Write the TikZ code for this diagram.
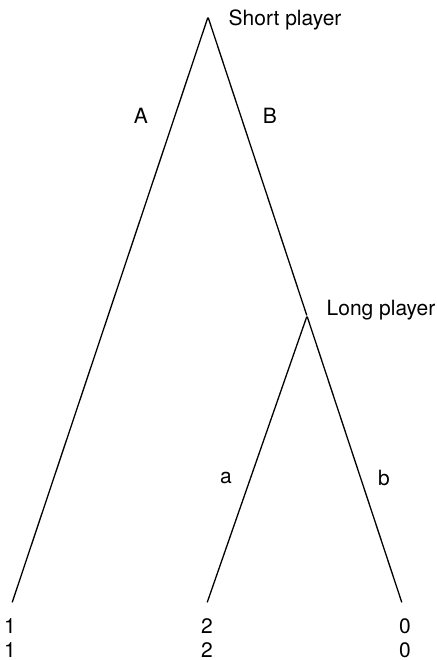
\documentclass[tikz,border=0pt]{standalone}
\usepackage{fontspec}
\setmainfont{TeX Gyre Heros}
\usetikzlibrary{positioning}

\tikzset{
  pt/.style={inner sep=0pt, minimum size=0pt},
  lbl/.style={font=\fontsize{10.5}{12}\selectfont, inner sep=0pt},
  pay/.style={lbl, align=center, anchor=north}
}

\begin{document}
\begin{tikzpicture}[x=0.5pt,y=0.5pt,line width=0.65pt]
	\useasboundingbox (0,0) rectangle (437,660);
	% decision nodes and leaves
	\node[pt] (short) at (208,643) {};
	\node[pt] (long) at (307,344) {};
	\node[pt] (leafA) at (12,57) {};
	\node[pt] (leafa) at (207,57) {};
	\node[pt] (leafb) at (402,57) {};

	\draw (short) -- (leafA);
	\draw (short) -- (long);
	\draw (long) -- (leafa);
	\draw (long) -- (leafb);

	% players
	\node[lbl, anchor=base west] (shortname) at (228,634) {Short player};
	\node[lbl, anchor=base west] (longname) at (326,344) {Long player};

	% moves
	\node[lbl] (moveA) at (141,544) {A};
	\node[lbl] (moveB) at (270,544) {B};
	\node[lbl] (movea) at (226,182) {a};
	\node[lbl] (moveb) at (384,182) {b};

	% payoffs
	\node[pay] (payA) at (10,42) {1\\1};
	\node[pay] (paya) at (207,42) {2\\2};
	\node[pay] (payb) at (405,42) {0\\0};
\end{tikzpicture}
\end{document}
